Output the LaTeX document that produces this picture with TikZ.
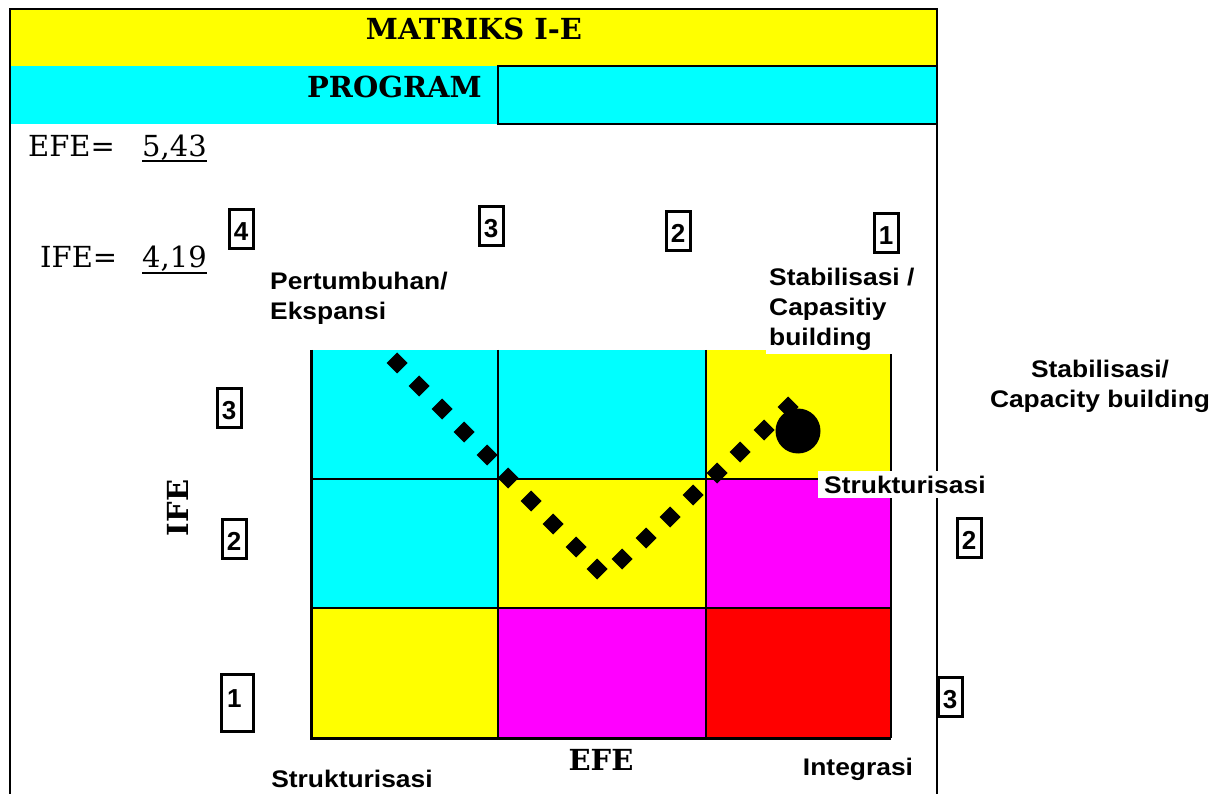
\documentclass[tikz,border=0pt]{standalone}
\usepackage{fontspec}
\setmainfont{DejaVu Serif}
\newfontfamily\labfont[FakeStretch=1.1]{Liberation Sans}
\newfontfamily\numfont{Liberation Sans}
\usetikzlibrary{positioning}

\definecolor{kuning}{RGB}{255,255,0}
\definecolor{sian}{RGB}{0,255,255}
\definecolor{ungu}{RGB}{255,0,255}
\definecolor{merah}{RGB}{255,0,0}

\tikzset{
  judul/.style={font=\bfseries\fontsize{29}{29}\selectfont, inner sep=0pt},
  nilai/.style={font=\fontsize{29}{29}\selectfont, inner sep=0pt},
  lab/.style={font=\labfont\bfseries\fontsize{24}{30}\selectfont, align=left, inner sep=0pt},
  nomor/.style={draw, line width=3pt, font=\numfont\bfseries\fontsize{26}{26}\selectfont,
    minimum width=24pt, inner xsep=0pt, inner ysep=2pt, text height=29pt, text depth=6pt},
}

\begin{document}
\begin{tikzpicture}[x=1pt, y=-1pt]
    \useasboundingbox[fill=white] (0,0) rectangle (1224,794);

    % Kepala
    \fill[kuning] (10,9) rectangle (937,66);
    \fill[sian] (10,66) rectangle (937,124);
    \draw[line width=2pt] (498,66) rectangle (937,124);
    \node[judul] (judul) at (474,29) {MATRIKS I-E};
    \node[judul, anchor=east] (program) at (482,87) {PROGRAM};

    % Sel matriks
    \foreach \xa/\xb/\ya/\yb/\warna in {311/498/350/479/sian, 498/706/350/479/sian,
        706/891/350/479/kuning, 311/498/479/608/sian, 498/706/479/608/kuning,
        706/891/479/608/ungu, 311/498/608/738/kuning, 498/706/608/738/ungu,
        706/891/608/738/merah}
        \fill[\warna] (\xa,\ya) rectangle (\xb,\yb);
    \foreach \x in {498, 706, 891}
        \draw[line width=1.5pt] (\x,350) -- (\x,738);
    \foreach \y in {479, 608}
        \draw[line width=1.5pt] (311,\y) -- (891,\y);
    \draw[line width=3pt] (311,350) -- (311,738) -- (891,738);

    % Bingkai
    \draw[line width=2pt] (10,794) -- (10,9) -- (937,9) -- (937,794);

    % Garis titik
    \foreach \x/\y in {397/363, 419/386, 442/409, 464/432, 487/455, 508/478, 531/501,
        553/524, 576/547, 597/569, 622/559, 646/538, 670/517, 693/495, 717/473,
        740/452, 764/430, 788/407}
        \fill (\x,\y) +(0,-10.5) -- +(10.5,0) -- +(0,10.5) -- +(-10.5,0) -- cycle;
    \fill (798,431) circle (22.5);

    % EFE dan IFE
    \node[nilai, anchor=base west] (efe) at (28,157) {EFE=};
    \node[nilai, anchor=base west] (efenilai) at (142,157) {5,43};
    \node[nilai, anchor=base west] (ife) at (40,268) {IFE=};
    \node[nilai, anchor=base west] (ifenilai) at (142,268) {4,19};
    \draw[line width=2pt] ([yshift=-4pt]efenilai.base west) -- ([yshift=-4pt]efenilai.base east);
    \draw[line width=2pt] ([yshift=-5pt]ifenilai.base west) -- ([yshift=-5pt]ifenilai.base east);

    % Nomor
    \foreach \nm/\x/\y/\t in {a4/241/229/4, a3/491/226/3, a2/678/231/2, a1/886/233/1,
        k3/229/408/3, k2/234/539/2, n2/969/538/2, n3/950/697/3}
        \node[nomor] (\nm) at (\x,\y) {\t};
    \node[nomor, text width=20pt, align=left, inner xsep=6pt, text height=31pt,
        text depth=22pt] (k1) at (237,703) {1};

    % Label
    \node[lab, anchor=north west] (tumbuh) at (270,272) {Pertumbuhan/\\Ekspansi};
    \node[lab, anchor=north west, fill=white, inner sep=3pt] (stab) at (766,265)
        {Stabilisasi /\\Capasitiy\\building};
    \node[lab, align=center, anchor=north] (stabkanan) at (1100,360)
        {Stabilisasi/\\Capacity building};
    \node[lab, anchor=base west, fill=white, inner xsep=6pt, inner ysep=5pt] (struk) at (818,493)
        {Strukturisasi};
    \node[lab, anchor=base] (strukbawah) at (352,787) {Strukturisasi};
    \node[lab, anchor=base] (integ) at (858,775) {Integrasi};
    \node[judul, anchor=base] (efebawah) at (601,770) {EFE};
    \node[judul, rotate=90] (ifekiri) at (178,508) {IFE};
\end{tikzpicture}
\end{document}
